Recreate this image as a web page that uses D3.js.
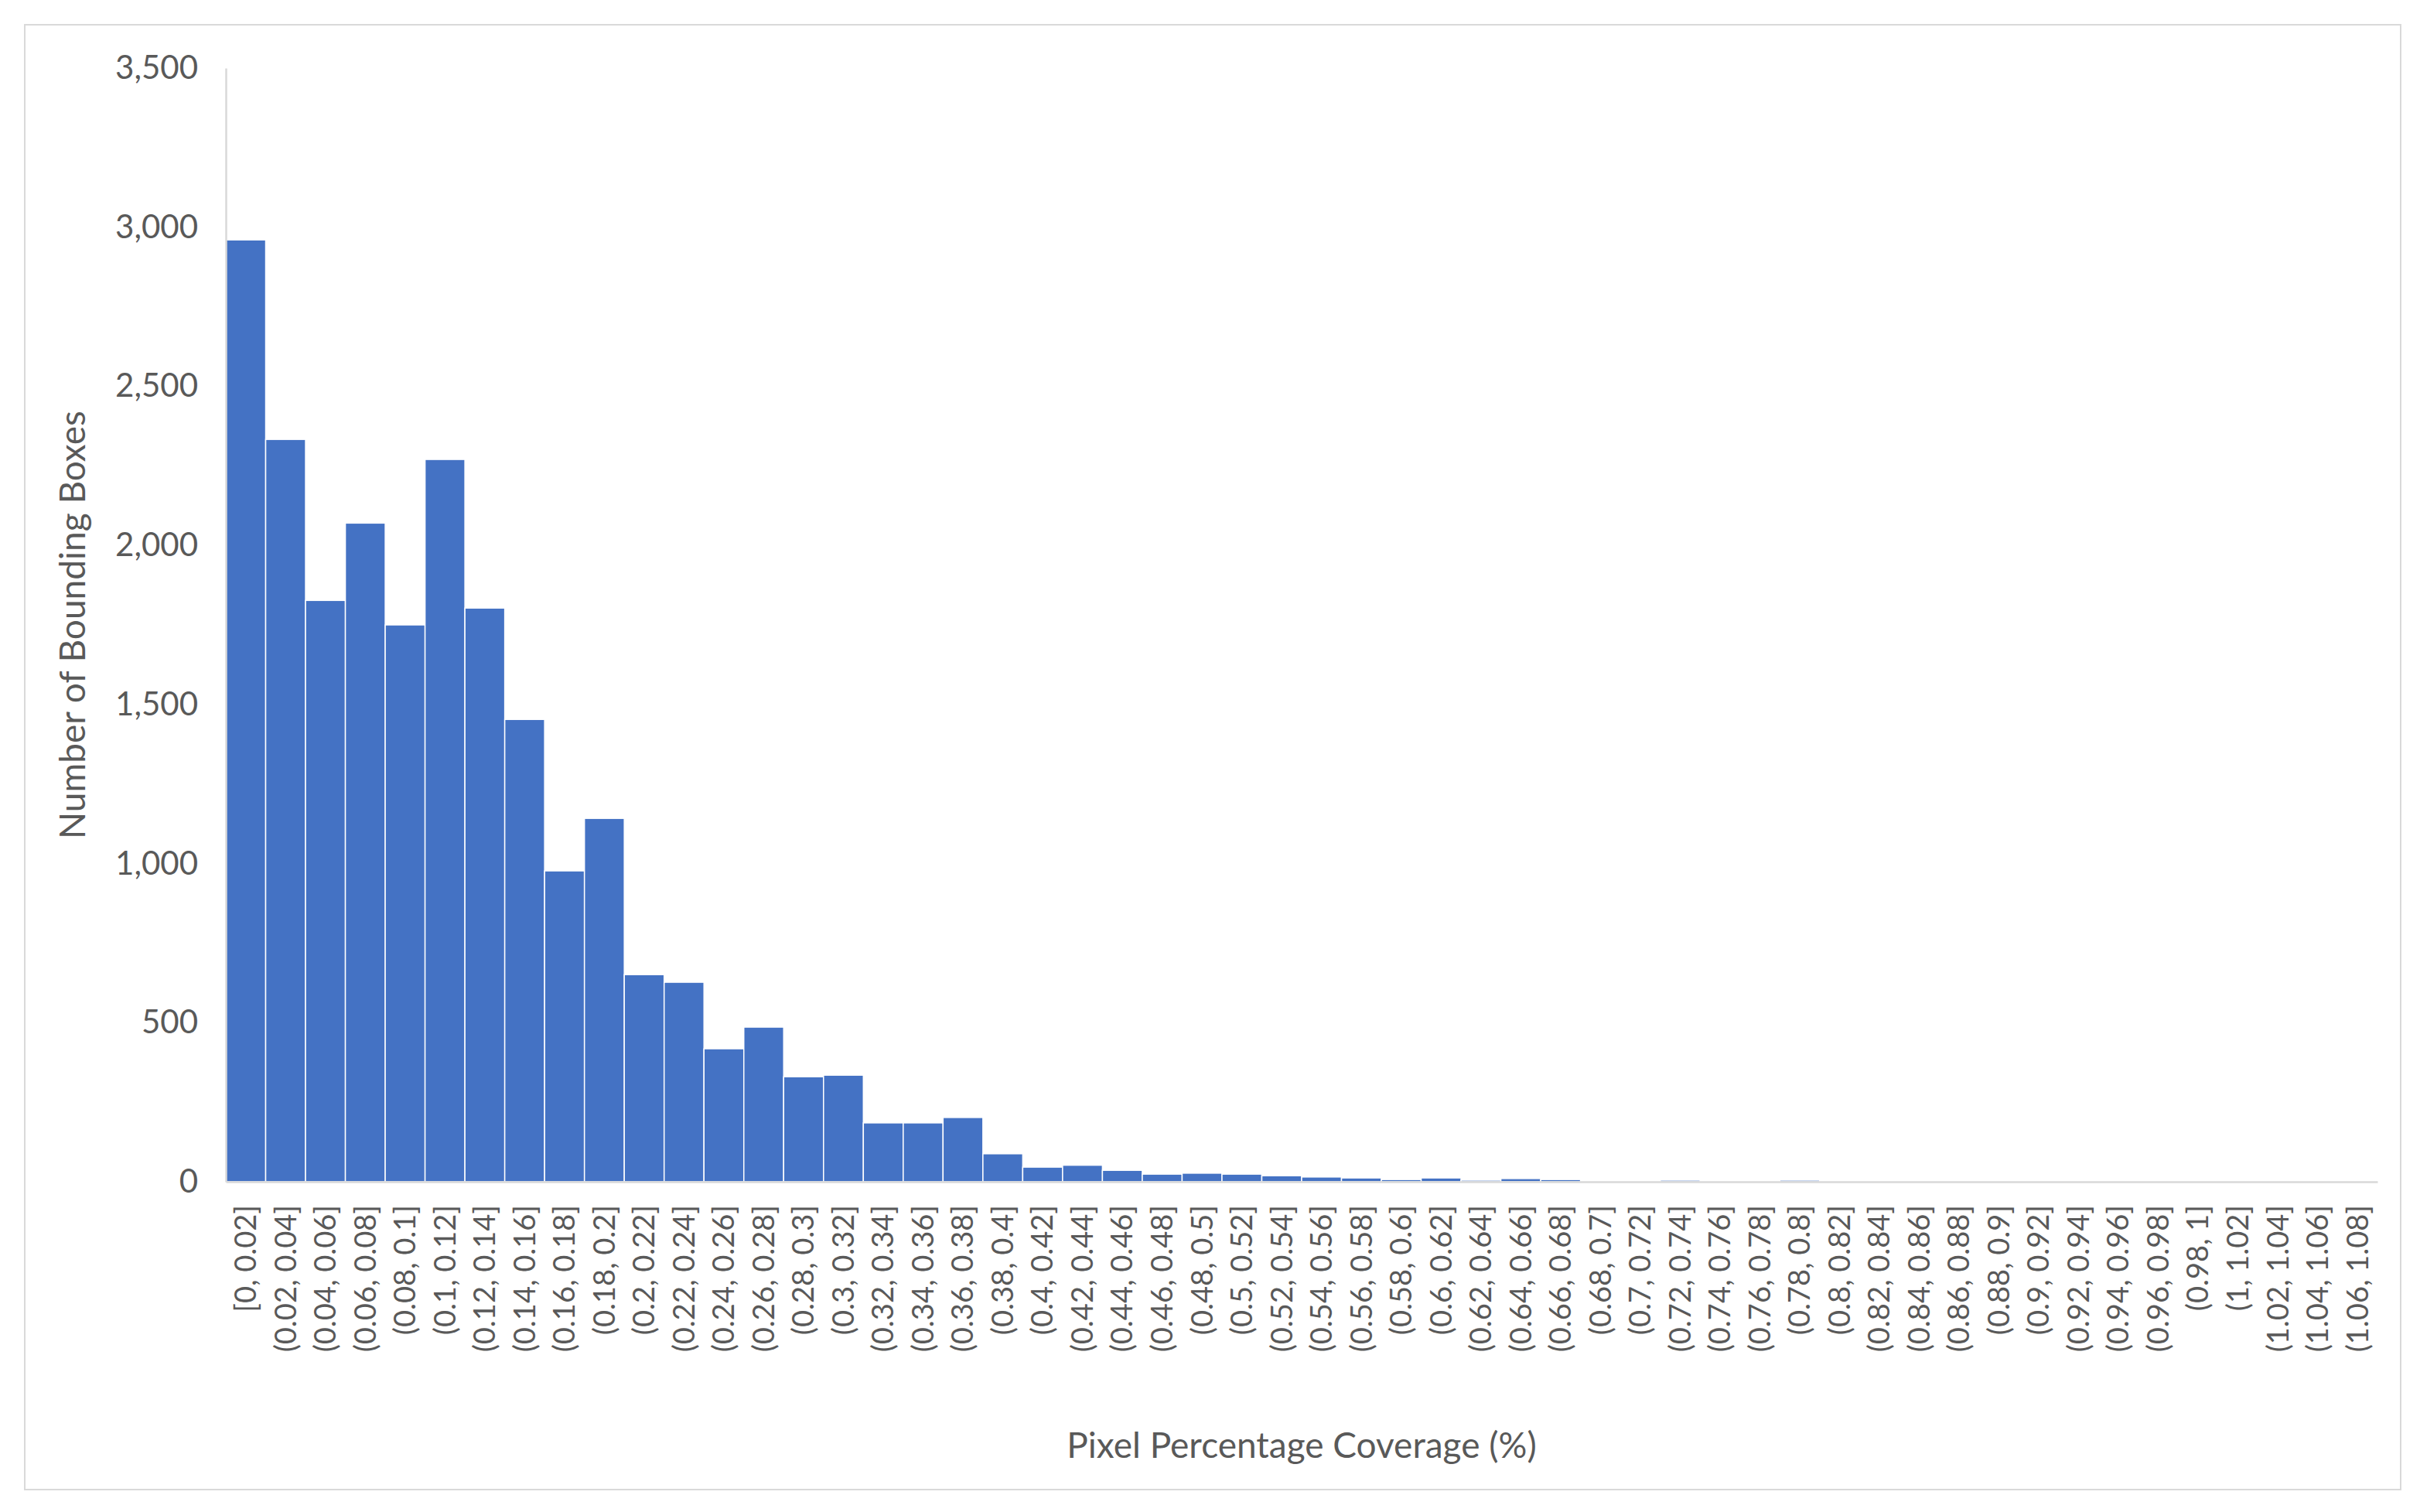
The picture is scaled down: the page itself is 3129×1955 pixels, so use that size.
<!DOCTYPE html>
<html><head><meta charset="utf-8">
<script src="https://cdn.jsdelivr.net/npm/d3@7"></script>
<style>body{margin:0;background:#fff}</style></head>
<body><svg id="c" width="3129" height="1955"></svg>
<script>
const categories = ["[0, 0.02]","(0.02, 0.04]","(0.04, 0.06]","(0.06, 0.08]","(0.08, 0.1]","(0.1, 0.12]","(0.12, 0.14]","(0.14, 0.16]","(0.16, 0.18]","(0.18, 0.2]","(0.2, 0.22]","(0.22, 0.24]","(0.24, 0.26]","(0.26, 0.28]","(0.28, 0.3]","(0.3, 0.32]","(0.32, 0.34]","(0.34, 0.36]","(0.36, 0.38]","(0.38, 0.4]","(0.4, 0.42]","(0.42, 0.44]","(0.44, 0.46]","(0.46, 0.48]","(0.48, 0.5]","(0.5, 0.52]","(0.52, 0.54]","(0.54, 0.56]","(0.56, 0.58]","(0.58, 0.6]","(0.6, 0.62]","(0.62, 0.64]","(0.64, 0.66]","(0.66, 0.68]","(0.68, 0.7]","(0.7, 0.72]","(0.72, 0.74]","(0.74, 0.76]","(0.76, 0.78]","(0.78, 0.8]","(0.8, 0.82]","(0.82, 0.84]","(0.84, 0.86]","(0.86, 0.88]","(0.88, 0.9]","(0.9, 0.92]","(0.92, 0.94]","(0.94, 0.96]","(0.96, 0.98]","(0.98, 1]","(1, 1.02]","(1.02, 1.04]","(1.04, 1.06]","(1.06, 1.08]"];
const counts = [2960,2333,1827,2070,1750,2270,1803,1453,977,1142,651,627,418,486,330,335,185,185,202,88,46,52,36,24,27,24,19,15,12,7,12,5,10,7,2,2,5,0,0,5,0,0,0,0,0,0,0,0,0,0,0,0,0,0];
const yTicks = [0,500,1000,1500,2000,2500,3000,3500];
const xTitle = "Pixel Percentage Coverage (%)";
const yTitle = "Number of Bounding Boxes";

const svg = d3.select("#c");
const F = "Lato, 'Open Sans', sans-serif";
svg.append("rect").attr("x",32).attr("y",32).attr("width",3072).attr("height",1894)
  .attr("fill","#fff").attr("stroke","#d9d9d9").attr("stroke-width",2);
const L=292,R=3074,T=88,B=1528;
// categories has 54 entries? ensure matching
const x = d3.scaleBand().domain(categories).range([L,R]).padding(0);
const y = d3.scaleLinear().domain([0,3500]).range([B,T]);
svg.append("g").selectAll("rect").data(categories).join("rect")
  .attr("x",d=>x(d)).attr("width",x.bandwidth())
  .attr("y",(d,i)=>y(counts[i])).attr("height",(d,i)=>B-y(counts[i]))
  .attr("fill","#4472C4").attr("stroke","#fff").attr("stroke-width",1.5);
const ya = svg.append("g").attr("transform",`translate(${L},0)`)
  .call(d3.axisLeft(y).tickValues(yTicks).tickSize(0).tickPadding(36));
ya.select(".domain").attr("stroke","#d9d9d9").attr("stroke-width",2.5);
ya.selectAll("text").attr("font-family",F).attr("font-size",42).attr("fill","#595959");
const xa = svg.append("g").attr("transform",`translate(0,${B})`)
  .call(d3.axisBottom(x).tickSize(0));
xa.select(".domain").attr("stroke","#d9d9d9").attr("stroke-width",2.5);
xa.selectAll("text").attr("font-family",F).attr("font-size",38).attr("fill","#595959")
  .attr("text-anchor","end").attr("transform","rotate(-90)").attr("x",-30).attr("y",0).attr("dy","0.35em");
svg.append("text").attr("x",(L+R)/2).attr("y",1885).attr("text-anchor","middle")
  .attr("font-family",F).attr("font-size",46).attr("fill","#595959").text(xTitle);
svg.append("text").attr("transform","translate(110,808) rotate(-90)").attr("text-anchor","middle")
  .attr("font-family",F).attr("font-size",46).attr("fill","#595959").text(yTitle);
</script></body></html>
